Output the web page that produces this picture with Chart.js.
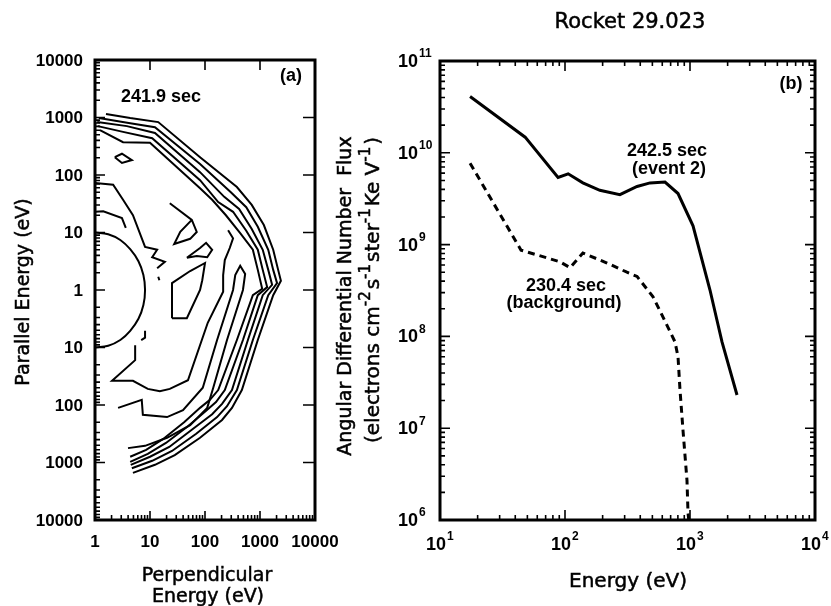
<!DOCTYPE html>
<html>
<head>
<meta charset="utf-8">
<script src="https://cdn.jsdelivr.net/npm/chart.js@4.4.1/dist/chart.umd.min.js"></script>
<style>
    body { margin: 0; background: #fff; width: 831px; height: 606px; position: relative; overflow: hidden; }
    canvas { position: absolute; left: 0; top: 0; }
</style>
</head>
<body>
<canvas id="panelA" width="831" height="606"></canvas>
<canvas id="panelB" width="831" height="606"></canvas>
<script>
// ---- panel (a): contours, points are [log10 perpendicular eV, signed log10 parallel eV]
const perpDecades = [0, 1, 2, 3, 4];
const perpTickLabels = ["1", "10", "100", "1000", "10000"];
const parDecades = [4, 3, 2, 1, 0, -1, -2, -3, -4];
const parTickLabels = ["10000", "1000", "100", "10", "1", "10", "100", "1000", "10000"];

const outer1 = [[0.20,3.06],[0.64,2.99],[1.15,2.92],[1.91,2.31],[2.58,1.79],[2.85,1.48],[3.07,1.13],[3.24,0.70],[3.33,0.35],[3.38,0.16],[3.24,-0.09],[2.96,-0.87],[2.67,-1.74],[2.49,-2.05],[2.31,-2.26],[1.91,-2.57],[1.45,-2.87],[1.09,-3.04],[0.69,-3.18]];
const outer2 = [[0.07,2.99],[0.64,2.90],[1.09,2.83],[1.91,2.19],[2.47,1.70],[2.75,1.44],[2.96,1.10],[3.15,0.70],[3.24,0.35],[3.31,0.12],[3.15,-0.09],[2.87,-0.87],[2.58,-1.74],[2.40,-2.02],[2.22,-2.21],[1.84,-2.50],[1.40,-2.80],[1.04,-2.97],[0.67,-3.10]];
const outer3 = [[0.04,2.92],[0.58,2.85],[1.09,2.73],[1.91,2.05],[2.35,1.62],[2.62,1.41],[2.85,1.06],[3.05,0.70],[3.15,0.35],[3.22,0.09],[3.05,-0.09],[2.78,-0.87],[2.49,-1.74],[2.31,-1.98],[2.13,-2.16],[1.76,-2.43],[1.35,-2.73],[1.00,-2.90],[0.65,-3.04]];
const outer4 = [[0.05,2.85],[0.51,2.75],[1.04,2.64],[1.91,1.91],[2.24,1.53],[2.51,1.36],[2.75,1.03],[2.96,0.70],[3.05,0.35],[3.13,0.05],[2.96,-0.09],[2.69,-0.87],[2.36,-1.74],[2.20,-1.95],[2.02,-2.10],[1.69,-2.37],[1.29,-2.66],[0.96,-2.85],[0.64,-2.99]];
const outer5 = [[0.09,2.78],[0.51,2.57],[1.00,2.56],[1.91,1.77],[2.13,1.57],[2.38,1.30],[2.64,0.99],[2.87,0.70],[2.96,0.35],[3.04,0.02],[2.87,-0.09],[2.58,-0.87],[2.24,-1.74],[2.09,-1.91],[1.91,-2.05],[1.62,-2.30],[1.24,-2.59],[0.93,-2.78],[0.64,-2.90]];
const tongue = [[0.42,-2.05],[0.85,-1.91],[0.87,-2.17],[1.31,-2.21],[1.60,-2.09],[1.96,-1.70],[2.22,-0.87],[2.51,0.00],[2.55,0.26],[2.64,0.42],[2.73,0.28],[2.69,0.00],[2.40,-0.87],[2.15,-1.70],[2.04,-2.05],[1.73,-2.35],[1.31,-2.57],[0.91,-2.71],[0.60,-2.75]];
const inner = [[2.42,1.04],[2.51,0.90],[2.45,0.73],[2.36,0.52],[2.33,0.26],[2.33,-0.03],[2.05,-0.57],[1.69,-1.57],[1.36,-1.72],[1.18,-1.76],[0.96,-1.72],[0.69,-1.58],[0.31,-1.58],[0.73,-1.22],[0.73,-0.96]];
const jagged = [[0.00,1.86],[0.33,1.83],[0.51,1.57],[0.69,1.30],[0.91,0.75],[1.13,0.70],[1.04,0.57],[1.27,0.49],[1.13,0.38]];
const shortLine = [[0.00,1.36],[0.15,1.37],[0.49,1.25],[0.56,1.08]];
const island1 = [[0.36,2.31],[0.49,2.37],[0.67,2.26],[0.49,2.21],[0.36,2.31]];
const island2 = [[1.36,1.51],[1.76,1.22],[1.85,1.01],[1.73,0.89],[1.44,0.80],[1.55,1.01],[1.76,1.22]];
const island3 = [[1.67,0.56],[1.91,0.73],[2.02,0.82],[2.13,0.70],[2.04,0.57],[1.85,0.59],[1.67,0.56]];
const island4 = [[1.40,-0.49],[1.40,0.12],[1.73,0.33],[2.00,0.47],[1.95,0.17],[1.91,0.00],[1.67,-0.49],[1.40,-0.49]];
const bit1 = [[1.15,0.23],[1.17,0.17]];
const bit2 = [[0.91,-0.71],[0.91,-0.83],[0.84,-0.87]];
const core = [[0.00,1.00],[0.24,0.97],[0.46,0.87],[0.64,0.71],[0.79,0.50],[0.88,0.26],[0.91,0.00],[0.88,-0.26],[0.79,-0.50],[0.64,-0.71],[0.46,-0.87],[0.24,-0.97],[0.00,-1.00]];

// ---- panel (b): spectra
const energyEvent = [17.4, 48, 88, 106, 139, 190, 275, 377, 479, 631, 802, 1057, 1445, 1644, 1803, 2377];
const fluxEvent = [4.1e10, 1.48e10, 5.4e9, 5.9e9, 4.7e9, 3.9e9, 3.5e9, 4.3e9, 4.7e9, 4.8e9, 3.6e9, 1.6e9, 3.2e8, 1.5e8, 8.7e7, 2.3e7];
const energyBackground = [17.4, 44.5, 91, 110, 139, 217, 313, 377, 506, 575, 759, 802, 832, 879, 946, 964, 977];
const fluxBackground = [7.7e9, 8.7e8, 6.5e8, 5.6e8, 8.1e8, 6.3e8, 5.0e8, 4.5e8, 2.7e8, 1.9e8, 8.7e7, 6.0e7, 2.6e7, 9.5e6, 2.7e6, 1.2e6, 1.0e6];
const energyDecades = [10, 100, 1000, 10000];
const energyTickExp = ["1", "2", "3", "4"];
const fluxDecades = [1e6, 1e7, 1e8, 1e9, 1e10, 1e11];
const fluxTickExp = ["6", "7", "8", "9", "10", "11"];

const TICK_FONT = 'bold 17px "Liberation Sans", Arial, sans-serif';
const NOTE_FONT = 'bold 18px "Liberation Sans", Arial, sans-serif';
const TITLE_FONT = '19px "DejaVu Sans", sans-serif';

function toPoints(list) {
    return list.map(p => ({ x: p[0], y: p[1] }));
}

// titles in the scan are a bit heavier than plain DejaVu, so give them a thin outline
function heavyText(ctx, text, x, y) {
    ctx.fillText(text, x, y);
    ctx.lineWidth = 0.5;
    ctx.strokeText(text, x, y);
}

const axesA = {
    id: "axesA",
    afterDraw(chart) {
        const ctx = chart.ctx, a = chart.chartArea;
        const xs = chart.scales.x, ys = chart.scales.y;
        ctx.save();
        ctx.strokeStyle = "#000";
        ctx.fillStyle = "#000";
        ctx.lineWidth = 1.6;
        ctx.beginPath();
        perpDecades.forEach((d, i) => {
            const px = xs.getPixelForValue(d);
            ctx.moveTo(px, a.bottom); ctx.lineTo(px, a.bottom - 9);
            if (i > 0 && i < perpDecades.length - 1) {
                ctx.moveTo(px, a.top); ctx.lineTo(px, a.top + 10);
            }
            if (i < perpDecades.length - 1) {
                for (let m = 2; m <= 9; m++) {
                    const mx = xs.getPixelForValue(d + Math.log10(m));
                    ctx.moveTo(mx, a.bottom); ctx.lineTo(mx, a.bottom - 5);
                }
            }
        });
        parDecades.forEach(d => {
            const py = ys.getPixelForValue(d);
            ctx.moveTo(a.left, py); ctx.lineTo(a.left + 10, py);
            ctx.moveTo(a.right, py); ctx.lineTo(a.right - 12, py);
        });
        for (let n = 0; n < 4; n++) {
            for (let m = 2; m <= 9; m++) {
                const v = n + Math.log10(m);
                [v, -v].forEach(w => {
                    const py = ys.getPixelForValue(w);
                    ctx.moveTo(a.left, py); ctx.lineTo(a.left + 5, py);
                });
            }
        }
        ctx.stroke();
        ctx.lineWidth = 3;
        ctx.strokeRect(a.left, a.top, a.right - a.left, a.bottom - a.top);

        ctx.font = TICK_FONT;
        ctx.textBaseline = "middle";
        ctx.textAlign = "center";
        perpDecades.forEach((d, i) => ctx.fillText(perpTickLabels[i], xs.getPixelForValue(d), a.bottom + 22));
        ctx.textAlign = "right";
        parDecades.forEach((d, i) => ctx.fillText(parTickLabels[i], a.left - 12, ys.getPixelForValue(d) + 1));

        ctx.font = NOTE_FONT;
        ctx.textAlign = "center";
        ctx.fillText("241.9 sec", 161, 97);
        ctx.fillText("(a)", 291, 76);

        ctx.font = TITLE_FONT;
        heavyText(ctx, "Perpendicular", 207, 576);
        heavyText(ctx, "Energy (eV)", 208, 597);
        ctx.translate(24, 292);
        ctx.rotate(-Math.PI / 2);
        heavyText(ctx, "Parallel Energy (eV)", 0, 0);
        ctx.restore();
    }
};

function powerLabel(ctx, exp, x, y, align) {
    ctx.font = 'bold 18px "Liberation Sans", Arial, sans-serif';
    const wBase = ctx.measureText("10").width;
    ctx.textAlign = "left";
    let left = align === "right" ? x - wBase : x - wBase / 2;
    ctx.fillText("10", left, y);
    ctx.font = 'bold 12px "Liberation Sans", Arial, sans-serif';
    ctx.fillText(exp, left + wBase + 1, y - 8);
}

const axesB = {
    id: "axesB",
    afterDraw(chart) {
        const ctx = chart.ctx, a = chart.chartArea;
        const xs = chart.scales.x, ys = chart.scales.y;
        ctx.save();
        ctx.strokeStyle = "#000";
        ctx.fillStyle = "#000";
        ctx.lineWidth = 1.6;
        ctx.beginPath();
        energyDecades.forEach((d, i) => {
            const px = xs.getPixelForValue(d);
            ctx.moveTo(px, a.bottom); ctx.lineTo(px, a.bottom - 10);
            ctx.moveTo(px, a.top); ctx.lineTo(px, a.top + 10);
            if (i < energyDecades.length - 1) {
                for (let m = 2; m <= 9; m++) {
                    const mx = xs.getPixelForValue(d * m);
                    ctx.moveTo(mx, a.bottom); ctx.lineTo(mx, a.bottom - 5);
                    ctx.moveTo(mx, a.top); ctx.lineTo(mx, a.top + 5);
                }
            }
        });
        fluxDecades.forEach((d, i) => {
            const py = ys.getPixelForValue(d);
            ctx.moveTo(a.left, py); ctx.lineTo(a.left + 10, py);
            ctx.moveTo(a.right, py); ctx.lineTo(a.right - 10, py);
            if (i < fluxDecades.length - 1) {
                for (let m = 2; m <= 9; m++) {
                    const my = ys.getPixelForValue(d * m);
                    ctx.moveTo(a.left, my); ctx.lineTo(a.left + 5, my);
                    ctx.moveTo(a.right, my); ctx.lineTo(a.right - 5, my);
                }
            }
        });
        ctx.stroke();
        ctx.lineWidth = 3;
        ctx.strokeRect(a.left, a.top, a.right - a.left, a.bottom - a.top);

        ctx.textBaseline = "middle";
        energyDecades.forEach((d, i) => powerLabel(ctx, energyTickExp[i], xs.getPixelForValue(d) - 4, a.bottom + 25, "center"));
        fluxDecades.forEach((d, i) => powerLabel(ctx, fluxTickExp[i], a.left - 22, ys.getPixelForValue(d) + 1, "right"));

        ctx.font = NOTE_FONT;
        ctx.textAlign = "center";
        ctx.fillText("(b)", 791, 84);
        ctx.fillText("242.5 sec", 667, 151);
        ctx.fillText("(event 2)", 669, 169);
        ctx.fillText("230.4 sec", 566, 286);
        ctx.fillText("(background)", 564, 303);

        ctx.font = '21px "DejaVu Sans", sans-serif';
        heavyText(ctx, "Rocket 29.023", 630, 23);
        ctx.font = '20px "DejaVu Sans", sans-serif';
        heavyText(ctx, "Energy (eV)", 628, 582);

        ctx.font = TITLE_FONT;
        ctx.save();
        ctx.translate(346, 296);
        ctx.rotate(-Math.PI / 2);
        heavyText(ctx, "Angular Differential Number  Flux", 0, 0);
        ctx.restore();

        const segs = [["(electrons cm", 0], ["-2", 1], ["s", 0], ["-1", 1], ["ster", 0], ["-1", 1], ["Ke V", 0], ["-1", 1], [")", 0]];
        const baseFont = '20px "DejaVu Sans", sans-serif', supFont = '15px "DejaVu Sans", sans-serif';
        let total = 0;
        segs.forEach(s => { ctx.font = s[1] ? supFont : baseFont; total += ctx.measureText(s[0]).width + (s[1] ? 2 : 0); });
        ctx.translate(374, 290);
        ctx.rotate(-Math.PI / 2);
        ctx.textAlign = "left";
        let x = -total / 2;
        segs.forEach(s => {
            ctx.font = s[1] ? supFont : baseFont;
            heavyText(ctx, s[0], x, s[1] ? -8 : 0);
            x += ctx.measureText(s[0]).width + (s[1] ? 2 : 0);
        });
        ctx.restore();
    }
};

const contours = [outer1, outer2, outer3, outer4, outer5, tongue, inner, jagged, shortLine, island1, island2, island3, island4, bit1, bit2, core];

new Chart(document.getElementById("panelA"), {
    type: "scatter",
    data: {
        datasets: contours.map(c => ({
            data: toPoints(c),
            showLine: true,
            borderColor: "#000",
            borderWidth: 2,
            pointRadius: 0,
            tension: c === core ? 0.4 : 0
        }))
    },
    options: {
        responsive: false,
        animation: false,
        events: [],
        layout: { padding: { left: 95, top: 60, right: 516, bottom: 86 } },
        plugins: { legend: { display: false }, tooltip: { enabled: false } },
        scales: {
            x: { type: "linear", min: 0, max: 4, display: false },
            y: { type: "linear", min: -4, max: 4, display: false }
        }
    },
    plugins: [axesA]
});

new Chart(document.getElementById("panelB"), {
    type: "scatter",
    data: {
        datasets: [{
            label: "242.5 sec (event 2)",
            data: energyEvent.map((e, i) => ({ x: e, y: fluxEvent[i] })),
            showLine: true,
            borderColor: "#000",
            borderWidth: 3,
            pointRadius: 0
        }, {
            label: "230.4 sec (background)",
            data: energyBackground.map((e, i) => ({ x: e, y: fluxBackground[i] })),
            showLine: true,
            borderColor: "#000",
            borderWidth: 3,
            borderDash: [7, 5],
            pointRadius: 0
        }]
    },
    options: {
        responsive: false,
        animation: false,
        events: [],
        layout: { padding: { left: 440, top: 61, right: 16, bottom: 86 } },
        plugins: { legend: { display: false }, tooltip: { enabled: false } },
        scales: {
            x: { type: "logarithmic", min: 10, max: 10000, display: false },
            y: { type: "logarithmic", min: 1e6, max: 1e11, display: false }
        }
    },
    plugins: [axesB]
});
</script>
</body>
</html>
